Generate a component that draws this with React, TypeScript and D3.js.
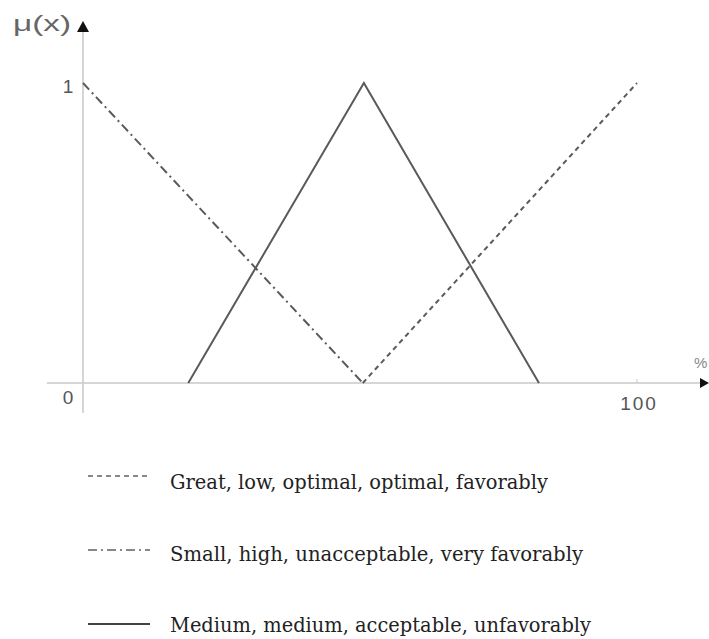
import React from "react";
import * as d3 from "d3";

const greatX = [50.5, 100];
const greatY = [0, 1];
const smallX = [0, 50.5];
const smallY = [1, 0];
const mediumX = [19, 50.7, 82.3];
const mediumY = [0, 1, 0];
const legendLabels = [
  "Great, low, optimal, optimal, favorably",
  "Small, high, unacceptable, very favorably",
  "Medium, medium, acceptable, unfavorably",
];
const legendWidths = [378, 413, 421];
const xTicks = [100];
const yTicks = [0, 1];

export default function App() {
  const W = 709, H = 639;
  const x = d3.scaleLinear().domain([0, 100]).range([83, 637]);
  const y = d3.scaleLinear().domain([0, 1]).range([383, 83]);
  const line = d3.line<[number, number]>().x(d => x(d[0])).y(d => y(d[1]));
  const zip = (a: number[], b: number[]) => a.map((v, i) => [v, b[i]] as [number, number]);
  const series = [
    { xs: greatX, ys: greatY, dash: "5,4" },
    { xs: smallX, ys: smallY, dash: "9,4,2,4" },
    { xs: mediumX, ys: mediumY, dash: "" },
  ];
  const stroke = "#5a5a5a";
  const legendY = [489, 561, 632];
  const sampleY = [476, 550, 624];
  const tickFont = "Liberation Sans, Arial";
  return (
    <svg width={W} height={H} style={{ position: "absolute", left: 0, top: 0 }}>
      <rect width={W} height={H} fill="#fff" />
      <line x1={x(0)} x2={x(0)} y1={413} y2={30} stroke="#c8c8c8" strokeWidth={1.5} />
      <path d={`M${x(0) - 6},${32} L${x(0) + 6},${32} L${x(0)},${21} Z`} fill="#111" />
      <line x1={47} x2={700} y1={y(0)} y2={y(0)} stroke="#c8c8c8" strokeWidth={1.5} />
      <path d={`M${700},${y(0) - 5} L${700},${y(0) + 5} L${709},${y(0)} Z`} fill="#111" />
      {xTicks.map(t => (
        <g key={t}>
          <line x1={x(t)} x2={x(t)} y1={y(0) - 4} y2={y(0)} stroke="#c8c8c8" />
          <text x={x(t) + 2} y={410} textAnchor="middle" fontFamily={tickFont} fontSize={19} letterSpacing={2} fill="#555">{t}</text>
        </g>
      ))}
      {yTicks.map(t => (
        <text key={t} x={68} y={t === 0 ? 404 : 93} textAnchor="middle" fontFamily={tickFont} fontSize={19} fill="#555">{t}</text>
      ))}
      <text x={13} y={31} fontFamily={tickFont} fontSize={22} fill="#666" textLength={58} lengthAdjust="spacingAndGlyphs">μ(x)</text>
      <text x={694} y={368} fontFamily={tickFont} fontSize={15} fill="#888">%</text>
      {series.map((s, i) => (
        <path key={i} d={line(zip(s.xs, s.ys)) || ""} fill="none" stroke={stroke} strokeWidth={2} strokeDasharray={s.dash} />
      ))}
      {series.map((s, i) => (
        <g key={"l" + i}>
          <line x1={88} x2={150} y1={sampleY[i]} y2={sampleY[i]} stroke={i === 2 ? "#444" : "#888"} strokeWidth={1.8} strokeDasharray={s.dash} />
          <text x={170} y={legendY[i]} fontFamily="DejaVu Serif, serif" fontSize={20} fill="#222" textLength={legendWidths[i]} lengthAdjust="spacingAndGlyphs">{legendLabels[i]}</text>
        </g>
      ))}
    </svg>
  );
}
